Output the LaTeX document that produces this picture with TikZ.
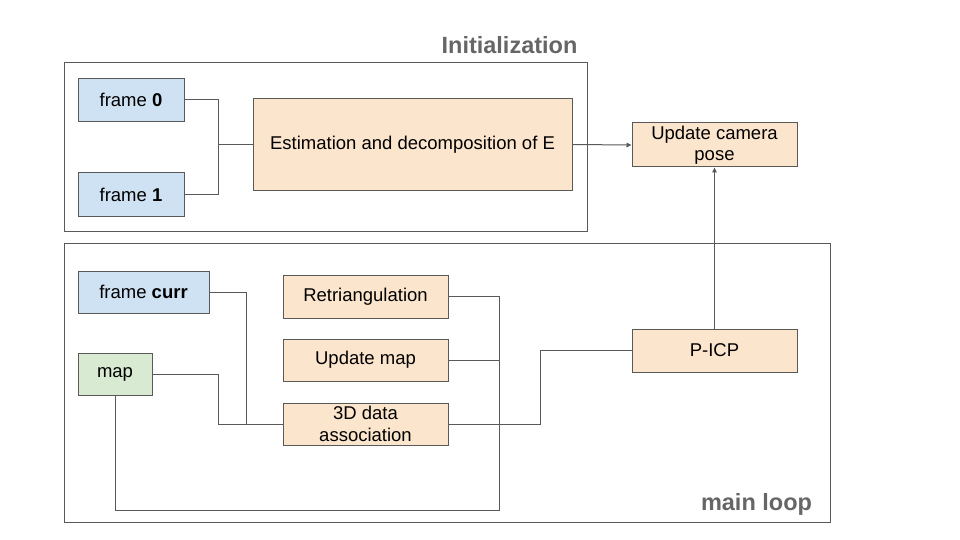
\documentclass[tikz,border=0pt]{standalone}
\usepackage{fontspec}
\setmainfont{Liberation Sans}
\usetikzlibrary{arrows.meta}
\definecolor{lineg}{HTML}{595959}
\definecolor{titleg}{HTML}{666666}
\definecolor{bluef}{HTML}{CFE2F3}
\definecolor{orangef}{HTML}{FCE5CD}
\definecolor{greenf}{HTML}{D9EAD3}
\tikzset{
  box/.style={draw=lineg, line width=1pt, inner sep=0pt, align=center,
    font=\fontsize{18.5}{21.5}\selectfont, text=black},
  bluebox/.style={box, fill=bluef},
  orangebox/.style={box, fill=orangef},
  greenbox/.style={box, fill=greenf},
  group/.style={draw=lineg, line width=1pt},
  conn/.style={draw=lineg, line width=1pt},
  arr/.style={conn, -{Triangle[length=5pt,width=4.5pt]}},
  grouptitle/.style={anchor=base, text=titleg, font=\fontsize{23.5}{26}\selectfont\bfseries, inner sep=0pt}
}
\begin{document}
\begin{tikzpicture}[x=1pt,y=-1pt]
\useasboundingbox (0,0) rectangle (960,540);
\fill[white] (0,0) rectangle (960,540);
% group frames
\draw[group] (64,63) rectangle (587,231);
\draw[group] (64,243) rectangle (830,522);
\node[grouptitle] (tinit) at (509.5,54) {Initialization};
\node[grouptitle] (tloop) at (756.5,510) {main loop};
% initialization
\node[bluebox, minimum width=106pt, minimum height=43pt] (f0) at (131,100) {frame \textbf{0}};
\node[bluebox, minimum width=106pt, minimum height=43pt] (f1) at (131,194.5) {frame \textbf{1}};
\node[orangebox, minimum width=319pt, minimum height=91pt] (est) at (412.5,144.5) {Estimation and decomposition of E};
\node[orangebox, minimum width=165pt, minimum height=44pt] (ucp) at (714.5,145) {Update camera\\pose};
% main loop
\node[bluebox, minimum width=131pt, minimum height=42pt] (fc) at (143.5,292) {frame \textbf{curr}};
\node[greenbox, minimum width=74pt, minimum height=42pt] (map) at (115,374) {map};
\node[orangebox, minimum width=165pt, minimum height=43pt] (ret) at (365.5,296.5) {Retriangulation};
\node[orangebox, minimum width=165pt, minimum height=42pt] (um) at (365.5,360) {Update map};
\node[orangebox, minimum width=165pt, minimum height=42pt] (dat) at (365.5,424) {3D data\\association};
\node[orangebox, minimum width=165pt, minimum height=43pt] (picp) at (714.5,350.5) {P-ICP};
% junctions
\coordinate (j1) at (218,144.5);
\coordinate (j2) at (246,424);
\coordinate (j3) at (218,424);
\coordinate (j4) at (499,510);
\coordinate (j5) at (540,424);
% connectors
\draw[conn] (f0.east) -| (j1);
\draw[conn] (f1.east) -| (j1);
\draw[conn] (j1) -- (est.west);
\draw[arr] (est.east) -- (ucp.west);
\draw[conn] (fc.east) -| (j2);
\draw[conn] (map.east) -| (j3) -- (dat.west);
\draw[conn] (ret.east) -| (j4) -| (map.south);
\draw[conn] (um.east) -- (um.east -| j4);
\draw[conn] (dat.east) -- (j5) |- (picp.west);
\draw[arr] (picp.north) -- (ucp.south);
\end{tikzpicture}
\end{document}
